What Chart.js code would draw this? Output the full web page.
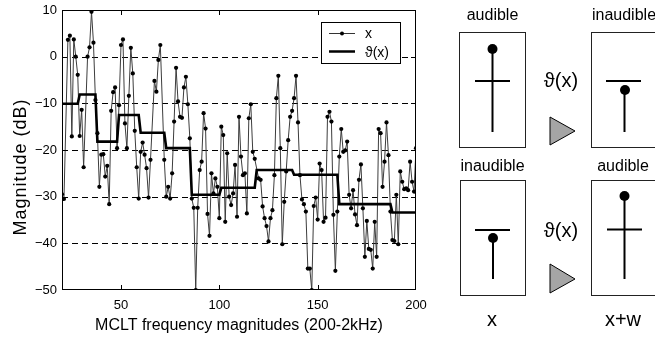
<!DOCTYPE html>
<html><head><meta charset="utf-8">
<script src="https://cdn.jsdelivr.net/npm/chart.js@4.4.1/dist/chart.umd.min.js"></script>
<style>
html,body{margin:0;padding:0;background:#fff}
body{width:655px;height:339px;position:relative;overflow:hidden;font-family:"Liberation Sans",Arial,"DejaVu Sans",sans-serif;color:#000}
#wrap{position:absolute;left:0;top:0;width:430px;height:339px}
#ov{position:absolute;left:0;top:0;pointer-events:none}
</style>
</head><body>
<div id="wrap"><canvas id="c"></canvas></div>
<svg id="ov" width="655" height="339" viewBox="0 0 655 339" font-family="Liberation Sans, Arial, DejaVu Sans, sans-serif">
  <text x="26" y="167" transform="rotate(-90 26 167)" text-anchor="middle" font-size="18" letter-spacing="1">Magnitude (dB)</text>
  <!-- legend -->
  <rect x="321.5" y="22.5" width="79" height="41" fill="#fff" stroke="#000" stroke-width="1"/>
  <line x1="329" y1="33.5" x2="355" y2="33.5" stroke="#333" stroke-width="1"/>
  <circle cx="342" cy="33.5" r="2" fill="#000"/>
  <text x="365" y="37.5" font-size="14">x</text>
  <line x1="329" y1="51.5" x2="355" y2="51.5" stroke="#000" stroke-width="2.5"/>
  <text x="365" y="57" font-size="14">ϑ(x)</text>
  <!-- diagram top -->
  <text x="492.5" y="20" font-size="16" text-anchor="middle">audible</text>
  <text x="624" y="20" font-size="16" text-anchor="middle">inaudible</text>
  <rect x="459.5" y="32.5" width="66" height="115" fill="none" stroke="#222" stroke-width="1"/>
  <line x1="492.5" y1="49" x2="492.5" y2="132" stroke="#000" stroke-width="2"/>
  <line x1="475" y1="81" x2="510" y2="81" stroke="#000" stroke-width="2.2"/>
  <circle cx="492.5" cy="49" r="5" fill="#000"/>
  <text x="561" y="87" font-size="20" text-anchor="middle">ϑ(x)</text>
  <polygon points="550,117 550,145 575,131" fill="#a5a5a5" stroke="#000" stroke-width="1"/>
  <rect x="591.5" y="32.5" width="66" height="115" fill="none" stroke="#222" stroke-width="1"/>
  <line x1="606" y1="81" x2="641" y2="81" stroke="#000" stroke-width="2.2"/>
  <line x1="624.5" y1="90" x2="624.5" y2="132" stroke="#000" stroke-width="2"/>
  <circle cx="625" cy="90" r="5" fill="#000"/>
  <!-- diagram bottom -->
  <text x="492.5" y="171" font-size="16" text-anchor="middle">inaudible</text>
  <text x="623" y="171" font-size="16" text-anchor="middle">audible</text>
  <rect x="460.5" y="180.5" width="65" height="115" fill="none" stroke="#222" stroke-width="1"/>
  <line x1="475" y1="230" x2="510" y2="230" stroke="#000" stroke-width="2.2"/>
  <line x1="493" y1="238" x2="493" y2="279" stroke="#000" stroke-width="2"/>
  <circle cx="493" cy="238" r="5" fill="#000"/>
  <text x="561" y="237" font-size="20" text-anchor="middle">ϑ(x)</text>
  <polygon points="550,264 550,293 575,279" fill="#a5a5a5" stroke="#000" stroke-width="1"/>
  <rect x="591.5" y="180.5" width="66" height="115" fill="none" stroke="#222" stroke-width="1"/>
  <line x1="624.5" y1="196" x2="624.5" y2="279" stroke="#000" stroke-width="2"/>
  <line x1="607" y1="229.5" x2="642" y2="229.5" stroke="#000" stroke-width="2.2"/>
  <circle cx="624.5" cy="196" r="5" fill="#000"/>
  <text x="492" y="326" font-size="20" text-anchor="middle">x</text>
  <text x="623" y="326" font-size="20" text-anchor="middle">x+w</text>
</svg>
<script>
// ---- data ----
const firstBin = 20;            // first MCLT bin shown
const magnitude = [             // x, dB, bins 20..200 (null = not readable)
  -29.5,-30.5,null,3.6,4.5,-17.1,3.7,0,-3.9,-17,
  -11.4,-23.7,null,0,2,9.6,3,-9.3,-16.4,-27.9,
  -21,-20.9,-25.7,-23.4,-31.6,-11.6,-7.6,-6.6,-19.6,-10.4,
  2.5,3.7,-14.3,-19.6,-8.4,1.9,-3.6,-15.9,-23.7,-30.4,
  -20.4,-18.4,-21,-23.9,-30.2,-22.1,null,-5.2,-7.5,-0.7,
  2.5,null,-22.1,-30,-27.9,-30.4,-25,-13.9,-2.4,-9.6,
  -12.9,-13.1,-6.6,-4.3,-10.2,-17.5,-30.4,-32.4,-50,-32.4,
  -24.3,-22.5,-12.1,-15.4,-33.7,-38.4,-25,-29.3,-26.1,-27.9,
  -34.6,-15,-16.8,-35.4,-20.7,-30,-31.8,-29.3,-23.2,-34.3,
  -12.9,-21.4,-25.4,-25,-33.6,-13.2,-10.2,-20.4,-21.9,null,
  -26.1,-26.4,-32.1,-34.6,-36.3,-39.6,-34.6,-32.9,-25.4,-8.9,
  -4.1,-19.6,-40.2,-31.1,-24.6,-17.9,-12.9,-11.6,-8.9,-4.1,
  -14.1,-25.4,-30.6,-31.6,-33.2,-45.4,-45.4,-50,-32,-30.2,
  -34.9,-22.9,-24.3,-35.4,-34.5,-12.9,-11.8,-13.9,-33.9,-45.9,
  -33.2,-21.4,-15.5,-20.4,-20.1,-18.2,-29.6,-32.5,-28.6,-33.8,
  -36.1,-26.4,-23.1,-32.5,-42.9,-35.2,-41.2,-41.4,-45.4,-35.4,
  -42.9,-15.5,-16.4,-27.9,-22.5,-14.1,-21.1,-33.2,-39.3,-39.5,
  -29.6,-40.2,-24.6,-26.8,-28.4,-28.2,-28.6,-22.5,-26.8,-28.9,
  -19.6
];
const thresholdBins = [20,28,29,37,38,48,49,59,60,72,73,85,86,100,101,118,119,137,138,160,161,187,188,200];
const thresholdDb   = [-10.1,-10.1,-8.1,-8.1,-18.2,-18.2,-12.5,-12.5,-16.3,-16.3,-19.6,-19.6,-29.6,-29.6,-28.1,-28.1,-24.3,-24.3,-25.3,-25.3,-31.6,-31.6,-33.4,-33.4];
const xTicks = [50,100,150,200];
const yTicks = [10,0,-10,-20,-30,-40,-50];
const gridLevels = [0,-10,-20,-30,-40];
const seriesNames = ['x','ϑ(x)'];
const xTitle = 'MCLT frequency magnitudes (200-2kHz)';

// ---- chart ----
const FONT = '"Liberation Sans", Arial, sans-serif';
const framePlugin = {
  id:'frame',
  beforeDatasetsDraw(chart){
    const {ctx, chartArea:a, scales:{y}} = chart;
    ctx.save();
    ctx.strokeStyle='#000'; ctx.lineWidth=1; ctx.setLineDash([6,4]);
    gridLevels.forEach(v=>{
      const py = Math.round(y.getPixelForValue(v))+0.5;
      ctx.beginPath(); ctx.moveTo(a.left,py); ctx.lineTo(a.right,py); ctx.stroke();
    });
    ctx.restore();
  },
  afterDatasetsDraw(chart){
    const {ctx, chartArea:a, scales:{x,y}} = chart;
    ctx.save();
    ctx.strokeStyle='#000'; ctx.lineWidth=1;
    ctx.strokeRect(a.left+0.5, a.top+0.5, a.right-a.left-1, a.bottom-a.top-1);
    ctx.beginPath();
    xTicks.forEach(v=>{
      if (v>=200) return;
      const px = Math.round(x.getPixelForValue(v))+0.5;
      ctx.moveTo(px,a.bottom); ctx.lineTo(px,a.bottom-5);
      ctx.moveTo(px,a.top); ctx.lineTo(px,a.top+5);
    });
    gridLevels.forEach(v=>{
      const py = Math.round(y.getPixelForValue(v))+0.5;
      ctx.moveTo(a.left,py); ctx.lineTo(a.left+5,py);
      ctx.moveTo(a.right,py); ctx.lineTo(a.right-5,py);
    });
    ctx.stroke();
    ctx.restore();
  }
};

new Chart(document.getElementById('c'), {
  type:'line',
  data:{
    datasets:[
      { label:seriesNames[0], data: magnitude.map((v,i)=>({x:firstBin+i, y:v})),
        borderColor:'#3c3c3c', borderWidth:1, pointRadius:2.1, pointBackgroundColor:'#000',
        pointBorderWidth:0, spanGaps:true, tension:0, order:2 },
      { label:seriesNames[1], data: thresholdBins.map((b,i)=>({x:b, y:thresholdDb[i]})),
        borderColor:'#000', borderWidth:2.6, pointRadius:0, tension:0, order:1 }
    ]
  },
  options:{
    animation:false, responsive:true, maintainAspectRatio:false,
    layout:{padding:{top:10,right:14,left:0,bottom:0}},
    plugins:{legend:{display:false}, tooltip:{enabled:false}},
    scales:{
      x:{ type:'linear', min:20, max:200,
        afterBuildTicks:s=>{ s.ticks = xTicks.map(v=>({value:v})); },
        afterFit:s=>{ s.height = 49; s.paddingLeft = 0; s.paddingRight = 0; },
        grid:{display:false, drawTicks:false}, border:{display:false},
        ticks:{ color:'#000', font:{family:FONT, size:13}, padding:8, maxRotation:0, autoSkip:false },
        title:{ display:true, text:xTitle, color:'#000', font:{family:FONT, size:16}, padding:{top:0,bottom:4} }
      },
      y:{ type:'linear', min:-50, max:10,
        afterBuildTicks:s=>{ s.ticks = yTicks.map(v=>({value:v})); },
        afterFit:s=>{ s.width = 62; s.paddingTop = 0; s.paddingBottom = 0; },
        grid:{display:false, drawTicks:false}, border:{display:false},
        ticks:{ color:'#000', font:{family:FONT, size:13}, padding:5,
          callback:v=> (v<0 ? '\u2212'+Math.abs(v) : String(v)) }
      }
    }
  },
  plugins:[framePlugin]
});
</script>
</body></html>
